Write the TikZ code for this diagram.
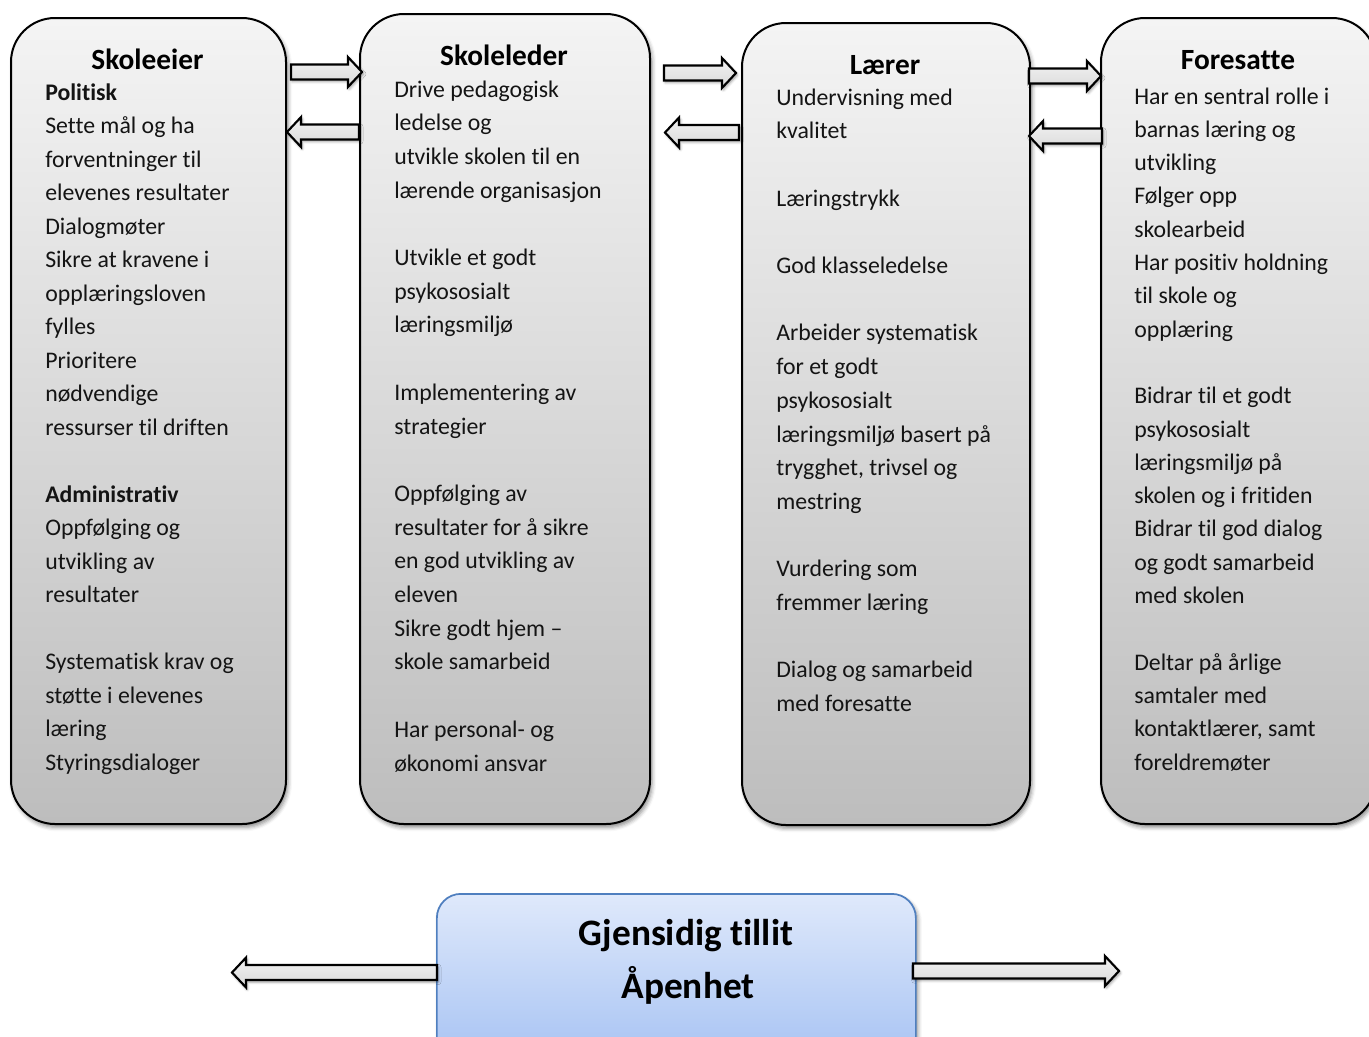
\documentclass[tikz,border=0pt]{standalone}
\usepackage{fontspec}
\setmainfont{Carlito}[Ligatures=NoCommon]
\usetikzlibrary{calc,shadows.blur}
\definecolor{boxtop}{HTML}{F4F4F4}
\definecolor{boxbot}{HTML}{BDBDBD}
\definecolor{bluetop}{HTML}{DFE9FB}
\definecolor{bluebot}{HTML}{A6C2F3}
\definecolor{blueline}{HTML}{4F7FBF}
\tikzset{
  rolebox/.style={draw=black, line width=1.5pt, rounded corners=33pt,
    top color=boxtop, bottom color=boxbot, anchor=north west, inner sep=0pt,
    blur shadow={shadow xshift=1.5pt, shadow yshift=-2.5pt, shadow blur radius=3pt, shadow opacity=45}},
  trustbox/.style={draw=blueline, line width=1.3pt, rounded corners=18pt,
    top color=bluetop, bottom color=bluebot, anchor=north west, inner sep=0pt,
    blur shadow={shadow xshift=1.5pt, shadow yshift=-2.5pt, shadow blur radius=3pt, shadow opacity=45}},
  blockarr/.style={draw=black, line width=1.6pt, line join=miter,
    top color=gray!10, bottom color=gray!30,
    blur shadow={shadow xshift=1pt, shadow yshift=-1.5pt, shadow blur radius=2pt, shadow opacity=40}},
  title/.style={font=\fontsize{22pt}{26pt}\selectfont\bfseries, anchor=base, inner sep=0pt},
  body/.style={font=\fontsize{17.85pt}{21pt}\selectfont, anchor=base west, inner sep=0pt, text=black!92},
  trusttext/.style={font=\fontsize{28pt}{32pt}\selectfont\bfseries, anchor=base, inner sep=0pt},
}
\newcommand\blockarrow[2]{%
  \path[blockarr] let \p1=(#1), \p2=(#2), \n1={ifthenelse(\x2>\x1,1,-1)} in
    (\x1,{\y1+5.6pt}) -- ({\x2-\n1*10.5pt},{\y1+5.6pt}) -- ({\x2-\n1*10.5pt},{\y1+11.2pt})
    -- (\x2,\y1) -- ({\x2-\n1*10.5pt},{\y1-11.2pt}) -- ({\x2-\n1*10.5pt},{\y1-5.6pt})
    -- (\x1,{\y1-5.6pt}) -- cycle;}
\begin{document}
\begin{tikzpicture}[x=0.75pt,y=-0.75pt]
\useasboundingbox (0,0) rectangle (1369,1036);
\clip (0,0) rectangle (1369,1036);
% role boxes
\node[rolebox, minimum width={275*0.75pt}, minimum height={806*0.75pt}] (b1) at (10,17) {};
\node[rolebox, minimum width={290*0.75pt}, minimum height={810*0.75pt}] (b2) at (359,13) {};
\node[rolebox, minimum width={288*0.75pt}, minimum height={802*0.75pt}] (b3) at (741,22) {};
\node[rolebox, minimum width={275*0.75pt}, minimum height={806*0.75pt}] (b4) at (1100,17) {};
% bottom box
\node[trustbox, minimum width={479*0.75pt}, minimum height={170*0.75pt}] (tb) at (436,893) {};
% titles
\node[title] (h1) at (147.5,69) {Skoleeier};
\node[title] (h2) at (504,65) {Skoleleder};
\node[title] (h3) at (885,74) {Lærer};
\node[title] (h4) at (1238,69) {Foresatte};
% body texts
\foreach \t [count=\i] in {{\textbf{Politisk}}, Sette mål og ha, forventninger til, elevenes resultater, Dialogmøter, Sikre at kravene i, opplæringsloven, fylles, Prioritere, nødvendige, ressurser til driften, {}, {\textbf{Administrativ}}, Oppfølging og, utvikling av, resultater, {}, Systematisk krav og, støtte i elevenes, læring, Styringsdialoger}
  \node[body] (t1-\i) at (45,{100+33.5*(\i-1)}) {\t};
\foreach \t [count=\i] in {Drive pedagogisk, ledelse og, utvikle skolen til en, lærende organisasjon, {}, Utvikle et godt, psykososialt, læringsmiljø, {}, Implementering av, strategier, {}, Oppfølging av, resultater for å sikre, en god utvikling av, eleven, Sikre godt hjem –, skole samarbeid, {}, Har personal- og, økonomi ansvar}
  \node[body] (t2-\i) at (394,{97+33.7*(\i-1)}) {\t};
\foreach \t [count=\i] in {Undervisning med, kvalitet, {}, Læringstrykk, {}, God klasseledelse, {}, Arbeider systematisk, for et godt, psykososialt, læringsmiljø basert på, {trygghet, trivsel og}, mestring, {}, Vurdering som, fremmer læring, {}, Dialog og samarbeid, med foresatte}
  \node[body] (t3-\i) at (776,{105+33.7*(\i-1)}) {\t};
\foreach \t [count=\i] in {Har en sentral rolle i, barnas læring og, utvikling, Følger opp, skolearbeid, Har positiv holdning, til skole og, opplæring, {}, Bidrar til et godt, psykososialt, læringsmiljø på, skolen og i fritiden, Bidrar til god dialog, og godt samarbeid, med skolen, {}, Deltar på årlige, samtaler med, {kontaktlærer, samt}, foreldremøter}
  \node[body] (t4-\i) at (1134,{104+33.3*(\i-1)}) {\t};
% bottom texts
\node[trusttext] (g1) at (686,945) {Gjensidig tillit};
\node[trusttext] (g2) at (688,998) {Åpenhet};
% arrow end points
\coordinate (a1s) at (291,72);    \coordinate (a1e) at (362,72);
\coordinate (a1bs) at (359,132);  \coordinate (a1be) at (287,132);
\coordinate (a2s) at (664,73);    \coordinate (a2e) at (736,73);
\coordinate (a2bs) at (739,132.5);\coordinate (a2be) at (665,132.5);
\coordinate (a3s) at (1029,76);   \coordinate (a3e) at (1101,76);
\coordinate (a3bs) at (1102,136); \coordinate (a3be) at (1029,136);
\coordinate (bls) at (437,972.5); \coordinate (ble) at (232,972.5);
\coordinate (brs) at (913,971);   \coordinate (bre) at (1119,971);
\blockarrow{a1s}{a1e}
\blockarrow{a1bs}{a1be}
\blockarrow{a2s}{a2e}
\blockarrow{a2bs}{a2be}
\blockarrow{a3s}{a3e}
\blockarrow{a3bs}{a3be}
\blockarrow{bls}{ble}
\blockarrow{brs}{bre}
\end{tikzpicture}
\end{document}
